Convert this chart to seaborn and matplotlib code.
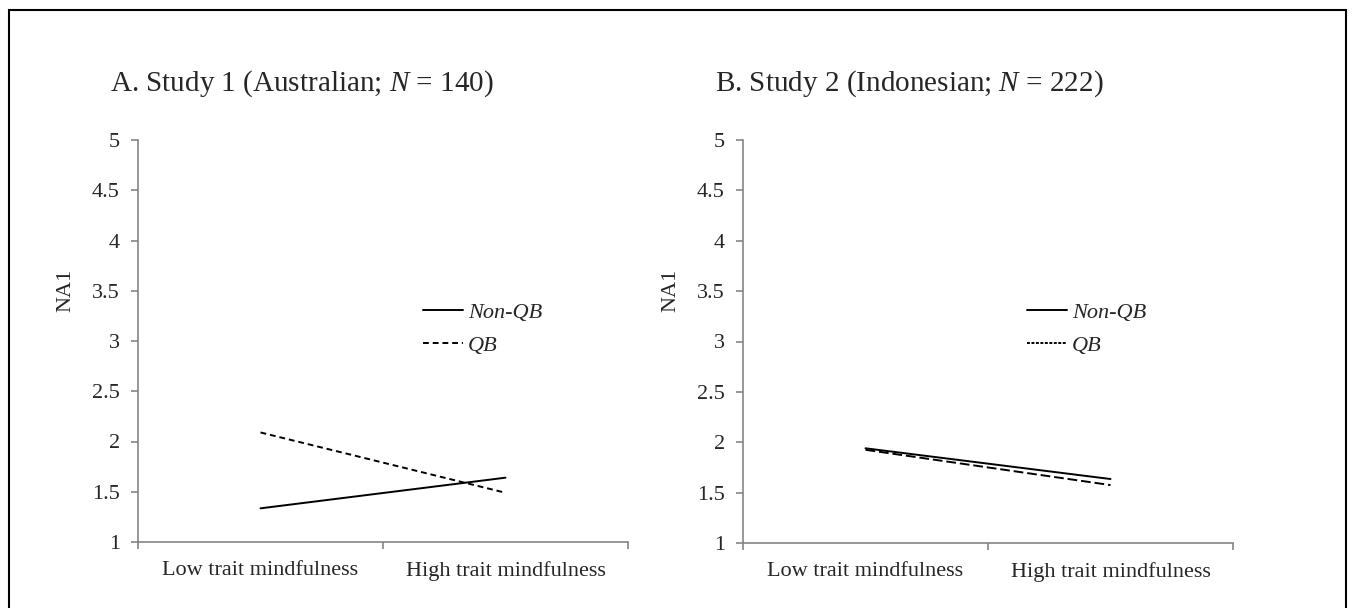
import matplotlib
matplotlib.use("Agg")
import matplotlib.pyplot as plt
import seaborn as sns
import pandas as pd
from matplotlib.lines import Line2D
from matplotlib.patches import Rectangle

sns.set_style("white")
plt.rcParams['font.family'] = ['Liberation Serif', 'DejaVu Serif']
plt.rcParams['mathtext.fontset'] = 'custom'
plt.rcParams['mathtext.it'] = 'Liberation Serif:italic'
plt.rcParams['mathtext.rm'] = 'Liberation Serif'

categories = ["Low trait mindfulness", "High trait mindfulness"]
groups = ["Non-QB", "QB"]
study1_nonqb = [1.335, 1.64]
study1_qb = [2.09, 1.49]
study2_nonqb = [1.94, 1.635]
study2_qb = [1.925, 1.575]
yticks = [1, 1.5, 2, 2.5, 3, 3.5, 4, 4.5, 5]
ytick_labels = ["1", "1.5", "2", "2.5", "3", "3.5", "4", "4.5", "5"]
titles = ["A. Study 1 (Australian; $N$ = 140)", "B. Study 2 (Indonesian; $N$ = 222)"]

W, H = 1352, 608
fig = plt.figure(figsize=(W / 100, H / 100), dpi=100)
fig.patch.set_facecolor("white")

# border
fig.add_artist(Rectangle((9 / W, -0.01), (1346 - 9) / W, (H - 10) / H + 0.01,
                         transform=fig.transFigure, fill=False, edgecolor="black", lw=1.5))

panels = [
    dict(left=138, right=628, top=140, bottom=542, data=(study1_nonqb, study1_qb),
         title_x=110, leg_x=423, dash_leg=(3.0, 2.0), dash_plot=(3.0, 2.0)),
    dict(left=743, right=1233, top=140, bottom=543, data=(study2_nonqb, study2_qb),
         title_x=715, leg_x=1027, dash_leg=(1.5, 0.8), dash_plot=(5, 2)),
]

spine_col = "#858585"
LW = 1.4
for i, p in enumerate(panels):
    ax = fig.add_axes([p["left"] / W, (H - p["bottom"]) / H,
                       (p["right"] - p["left"]) / W, (p["bottom"] - p["top"]) / H])
    rows = []
    for g, vals in zip(groups, p["data"]):
        for j, (c, v) in enumerate(zip(categories, vals)):
            rows.append(dict(group=g, pos=j, value=v))
    df = pd.DataFrame(rows)
    sns.lineplot(data=df, x="pos", y="value", style="group",
                 dashes={"Non-QB": "", "QB": p["dash_plot"]},
                 color="black", lw=LW, ax=ax, legend=False)
    ax.set_xlim(-0.5, 1.5)
    ax.set_ylim(1, 5)
    ax.set_xticks([-0.5, 0.5, 1.5])
    ax.set_xticklabels([])
    ax.set_xticks([0, 1], minor=True)
    ax.set_xticklabels(categories, minor=True, fontsize=16)
    ax.tick_params(axis="x", which="minor", length=0, pad=14)
    ax.tick_params(axis="x", which="major", length=5, width=1.2, color=spine_col, direction="out")
    ax.set_yticks(yticks)
    ax.set_yticklabels(ytick_labels, fontsize=16)
    ax.tick_params(axis="y", length=5, width=1.2, color=spine_col, direction="out", pad=8)
    ax.tick_params(bottom=True, left=True, which="major")
    for s in ["top", "right"]:
        ax.spines[s].set_visible(False)
    for s in ["left", "bottom"]:
        ax.spines[s].set_color(spine_col)
        ax.spines[s].set_linewidth(1.2)
    ax.set_xlabel("")
    ax.set_ylabel("NA1", fontsize=16)
    ax.yaxis.set_label_coords(-63 / (p["right"] - p["left"]),
                              (p["bottom"] - 290) / (p["bottom"] - p["top"]))
    ax.grid(False)

    fig.text(p["title_x"] / W, 1 - 91 / H, titles[i], fontsize=21,
             ha="left", va="baseline")

    handles = [Line2D([], [], color="black", lw=LW),
               Line2D([], [], color="black", lw=LW, dashes=p["dash_leg"])]
    ax.legend(handles, groups, loc="center left",
              bbox_to_anchor=((p["leg_x"] - p["left"]) / (p["right"] - p["left"]),
                              (p["bottom"] - 329) / (p["bottom"] - p["top"])),
              frameon=False, borderpad=0, borderaxespad=0,
              handlelength=1.8, handletextpad=0.23,
              labelspacing=0.55, prop={"family": "Liberation Serif", "style": "italic", "size": 16})

fig.savefig("out.png", dpi=100, facecolor="white")
